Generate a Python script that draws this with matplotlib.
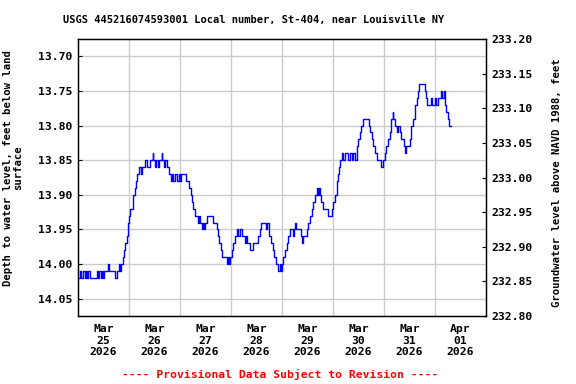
import matplotlib
matplotlib.use("Agg")
import matplotlib.pyplot as plt
import numpy as np

# hours since Mar 25 2026 00:00, depth below land surface (ft)
heures = [0.0, 0.9, 1.4, 2.5, 3.1, 3.6, 4.1, 4.9, 5.6, 8.8, 9.4, 10.0, 10.7, 11.3, 11.9,
          12.4, 14.1, 14.7, 17.4, 18.5, 19.1, 19.8, 20.2, 21.0, 21.8, 22.3, 22.9, 23.4,
          23.7, 24.0, 24.6, 25.7, 26.0, 26.7, 27.1, 27.9, 28.9, 29.5, 29.9, 31.5, 32.3,
          33.1, 33.9, 35.1, 35.5, 36.2, 36.7, 37.8, 38.3, 39.4, 39.7, 40.5, 40.9, 41.7,
          42.7, 43.8, 44.4, 44.9, 45.5, 46.7, 47.4, 48.0, 48.5, 50.8, 52.2, 53.0, 53.6,
          54.3, 55.2, 56.5, 57.1, 57.6, 58.2, 58.8, 59.3, 59.8, 60.9, 63.4, 65.3, 65.7,
          66.4, 67.1, 67.9, 70.0, 70.4, 71.1, 71.5, 72.3, 73.1, 73.9, 74.7, 75.5, 76.2,
          77.0, 78.6, 79.1, 79.7, 80.9, 82.5, 84.9, 85.6, 86.3, 88.5, 89.1, 89.7, 91.0,
          91.6, 92.4, 93.0, 94.3, 95.1, 95.4, 95.8, 96.6, 97.4, 98.2, 99.0, 99.8, 101.3,
          101.8, 102.1, 102.4, 104.8, 105.4, 105.7, 107.6, 108.4, 109.2, 110.0, 110.7,
          111.5, 112.3, 112.8, 113.4, 113.9, 114.4, 115.5, 117.5, 119.4, 120.2, 121.0,
          121.7, 122.2, 122.8, 123.3, 124.1, 124.9, 125.6, 127.2, 128.0, 128.8, 129.6,
          130.4, 131.1, 131.9, 132.7, 133.3, 134.0, 136.9, 137.6, 138.3, 138.9, 139.9,
          140.8, 142.7, 143.3, 144.3, 145.0, 145.8, 146.6, 147.1, 148.1, 148.4, 149.4,
          150.2, 150.6, 151.3, 152.1, 153.3, 153.8, 154.4, 156.0, 156.8, 157.6, 158.4,
          158.8, 159.3, 159.8, 160.4, 163.2, 163.7, 164.3, 166.2, 166.7, 167.8, 168.4,
          169.4, 170.6, 171.2, 172.1, 172.6, 173.2, 174.0, 174.6, 175.6]
profondeur = [14.02, 14.01, 14.02, 14.01, 14.02, 14.01, 14.02, 14.01, 14.02, 14.01, 14.02,
              14.01, 14.02, 14.01, 14.02, 14.01, 14.00, 14.01, 14.02, 14.01, 14.00, 14.01,
              14.00, 13.99, 13.98, 13.97, 13.96, 13.95, 13.94, 13.93, 13.92, 13.91, 13.90,
              13.89, 13.88, 13.87, 13.86, 13.87, 13.86, 13.85, 13.86, 13.86, 13.85, 13.84,
              13.85, 13.86, 13.85, 13.86, 13.85, 13.84, 13.85, 13.86, 13.85, 13.86, 13.87,
              13.88, 13.87, 13.88, 13.87, 13.88, 13.87, 13.88, 13.87, 13.88, 13.89, 13.90,
              13.91, 13.92, 13.93, 13.94, 13.93, 13.94, 13.95, 13.94, 13.95, 13.94, 13.93,
              13.94, 13.95, 13.96, 13.97, 13.98, 13.99, 14.00, 13.99, 14.00, 13.99, 13.98,
              13.97, 13.96, 13.95, 13.96, 13.95, 13.96, 13.97, 13.96, 13.97, 13.98, 13.97,
              13.96, 13.95, 13.94, 13.95, 13.94, 13.96, 13.97, 13.98, 13.99, 14.00, 14.01,
              14.00, 14.01, 14.00, 13.99, 13.98, 13.97, 13.96, 13.95, 13.96, 13.95, 13.94,
              13.95, 13.96, 13.97, 13.96, 13.95, 13.94, 13.93, 13.92, 13.91, 13.90, 13.89,
              13.90, 13.89, 13.90, 13.91, 13.92, 13.93, 13.92, 13.91, 13.90, 13.88, 13.87,
              13.86, 13.85, 13.84, 13.85, 13.84, 13.85, 13.84, 13.85, 13.84, 13.85, 13.83,
              13.82, 13.81, 13.80, 13.79, 13.80, 13.81, 13.82, 13.83, 13.84, 13.85, 13.86,
              13.85, 13.84, 13.83, 13.82, 13.81, 13.79, 13.78, 13.79, 13.80, 13.81, 13.80,
              13.81, 13.82, 13.83, 13.84, 13.83, 13.82, 13.80, 13.79, 13.78, 13.77, 13.76,
              13.75, 13.74, 13.75, 13.76, 13.77, 13.76, 13.77, 13.76, 13.77, 13.76, 13.75,
              13.76, 13.75, 13.77, 13.78, 13.79, 13.80, 13.80]

jours_labels = ["Mar\n25\n2026", "Mar\n26\n2026", "Mar\n27\n2026", "Mar\n28\n2026",
                "Mar\n29\n2026", "Mar\n30\n2026", "Mar\n31\n2026", "Apr\n01\n2026"]
gauche_ticks = [13.70, 13.75, 13.80, 13.85, 13.90, 13.95, 14.00, 14.05]
droite_ticks = [232.80, 232.85, 232.90, 232.95, 233.00, 233.05, 233.10, 233.15, 233.20]
sol = 246.875  # land surface elevation

plt.rcParams['font.family'] = ['DejaVu Sans Mono']
plt.rcParams['font.weight'] = 'bold'

fig = plt.figure(figsize=(5.76, 3.84), dpi=100)
ax = fig.add_axes([78/576, 1-316/384, 408/576, 277/384])

ax.plot(heures, profondeur, color='#0000ff', lw=1.0, drawstyle='steps-post')
ax.set_xlim(0, 192)
ax.set_ylim(sol - 232.80, sol - 233.20)
ax.set_yticks(gauche_ticks)
ax.set_yticklabels(["%.2f" % v for v in gauche_ticks], fontsize=8.2)
ax.set_xticks([12 + 24*i for i in range(len(jours_labels))])
ax.set_xticklabels(jours_labels, fontsize=8.2, linespacing=1.15)
ax.set_xticks([24*i for i in range(1, 8)], minor=True)
ax.tick_params(axis='x', which='both', length=0, pad=6)
ax.tick_params(axis='y', direction='in', length=3, pad=4)
ax.grid(False)
ax.xaxis.grid(True, which='minor', color='#cccccc', lw=1)
ax.yaxis.grid(True, which='major', color='#cccccc', lw=1)
ax.set_axisbelow(True)
for s in ax.spines.values():
    s.set_linewidth(1.0)

ax2 = ax.twinx()
ax2.set_ylim(232.80, 233.20)
ax2.set_yticks(droite_ticks)
ax2.set_yticklabels(["%.2f" % v for v in droite_ticks], fontsize=8.2)
ax2.tick_params(axis='y', direction='in', length=3, pad=4)

fig.text(254/576, 1-20/384, "USGS 445216074593001 Local number, St-404, near Louisville NY",
         ha='center', va='center', fontsize=7.5, fontweight='bold')
fig.text(13/576, 1-168/384, "Depth to water level, feet below land\nsurface",
         rotation=90, ha='center', va='center', fontsize=7.6, fontweight='bold',
         linespacing=1.0)
fig.text(557/576, 1-183/384, "Groundwater level above NAVD 1988, feet",
         rotation=90, ha='center', va='center', fontsize=7.6, fontweight='bold')
fig.text(280/576, 1-374/384, "---- Provisional Data Subject to Revision ----",
         ha='center', va='center', fontsize=8.2, fontweight='bold', color='red')

fig.savefig("out.png", dpi=100)
